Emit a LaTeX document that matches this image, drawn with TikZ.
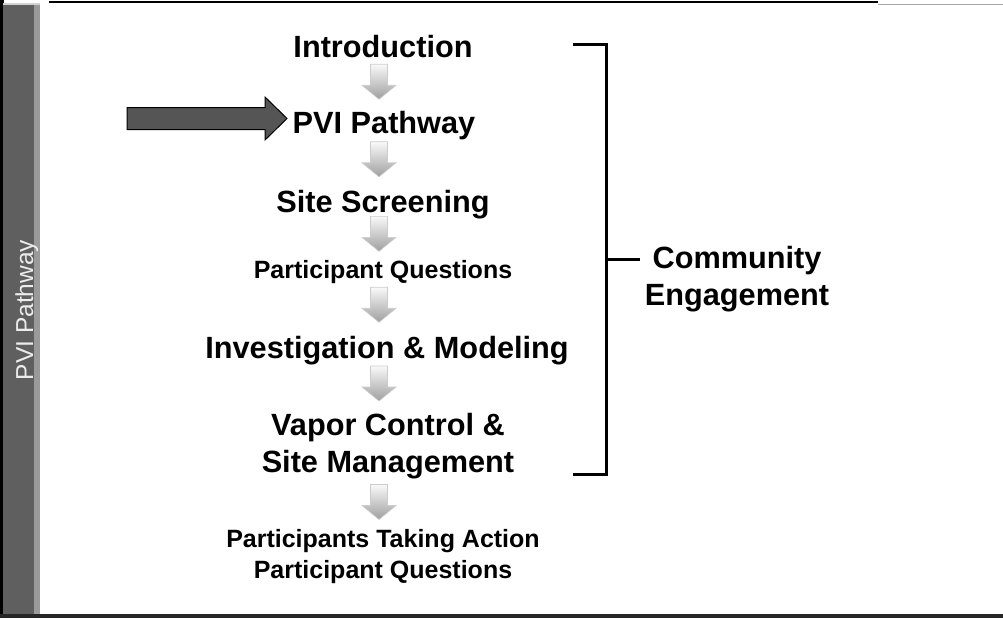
\documentclass[tikz,border=0pt]{standalone}
\usepackage{fontspec}
\setmainfont{Liberation Sans}
\usepackage{tikz}
\usetikzlibrary{calc,positioning}
\usepackage{xcolor}
\definecolor{bargray}{HTML}{5F5F5F}
\definecolor{bevelgray}{HTML}{9A9A9A}
\definecolor{pointgray}{HTML}{555555}

\begin{document}
\begin{tikzpicture}[x=1pt, y=-1pt,
    bigstep/.style={inner sep=0pt, align=center, font=\bfseries\fontsize{30.7}{37}\selectfont},
    smallstep/.style={inner sep=0pt, align=center, font=\bfseries\fontsize{25}{31}\selectfont},
    flowarrow/.style={top color=gray!5, bottom color=gray!75, draw=gray!40, line width=0.6pt}]
    \fill[white] (0,0) rectangle (1003,618);
    \useasboundingbox (0,0) rectangle (1003,618);

    % side bar and frame
    \fill[black] (0,0) rectangle (4,618);
    \fill[bargray] (3,3) rectangle (34,614);
    \fill[bevelgray] (34,3) rectangle (40,614);
    \fill[gray!35] (3,3) rectangle (40,5);
    \node[rotate=90, anchor=base, text=gray!15, inner sep=0pt, font=\fontsize{24.5}{29}\selectfont] (side) at (33,310) {PVI Pathway};
    \draw[black, line width=2pt] (49,2) -- (878,2);
    \draw[gray!70, line width=1.5pt] (878,4.5) -- (1003,4.5);
    \fill[black!85] (0,614) rectangle (1003,618);

    % steps
    \node[bigstep, anchor=base] (intro) at (383,57) {Introduction};
    \node[bigstep, anchor=base] (pvi) at (384,133) {PVI Pathway};
    \node[bigstep, anchor=base] (screen) at (383,212) {Site Screening};
    \node[smallstep, anchor=base] (questions) at (383,278) {Participant Questions};
    \node[bigstep, anchor=base] (invest) at (387,358) {Investigation \& Modeling};
    \node[bigstep, anchor=north] (vapor) at (388,413) {Vapor Control \&\\Site Management};
    \node[smallstep, anchor=north] (action) at (383,528.8) {Participants Taking Action\\Participant Questions};

    % arrows between steps
    \coordinate (axis) at (379,0);
    \foreach \a/\b in {intro.base/pvi.north, pvi.base/screen.north, screen.base/questions.north,
        questions.base/invest.north, invest.base/vapor.north, vapor.south/action.north} {
        \coordinate (m) at ($(\a)!0.5!(\b)$);
        \shade[flowarrow] (axis |- m) ++(-8.5,-19.5) -- ++(17,0) -- ++(0,21) -- ++(8.5,0)
            -- ++(-17,14) -- ++(-17,-14) -- ++(8.5,0) -- cycle;
    }

    % pointer to current step
    \coordinate (tip) at (287,118.5);
    \draw[fill=pointgray, line width=1pt] (tip) -- ++(-22,-21.5) -- ++(0,10.5) -- ++(-138,0)
        -- ++(0,22) -- ++(138,0) -- ++(0,10.5) -- cycle;

    % bracket
    \coordinate (btop) at (606,45);
    \coordinate (bbot) at (606,474);
    \draw[line width=3pt] ($(btop)+(-33,0)$) -- (btop) -- (bbot) -- ++(-33,0);
    \node[bigstep, anchor=north] (community) at (737,246) {Community\\Engagement};
    \draw[line width=3pt] ($(btop)!0.5!(bbot)$) -- ++(34,0);
\end{tikzpicture}
\end{document}
